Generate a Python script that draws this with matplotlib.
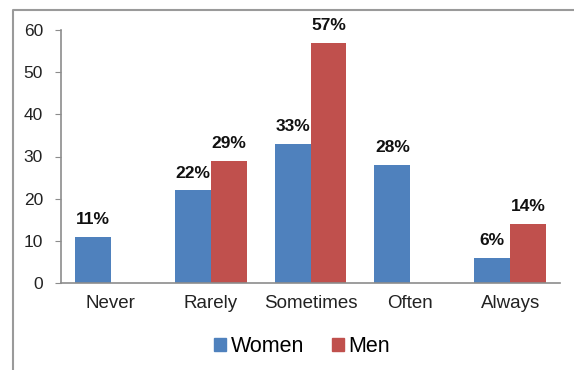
import matplotlib
matplotlib.use("Agg")
import matplotlib.pyplot as plt
from matplotlib.patches import Patch
from matplotlib.lines import Line2D
import numpy as np

plt.rcParams['font.family'] = ['Liberation Sans', 'DejaVu Sans']

# data
categories = ["Never", "Rarely", "Sometimes", "Often", "Always"]
women = [11, 22, 33, 28, 6]
men = [0, 29, 57, 0, 14]

BLUE = "#4F81BD"
RED = "#C0504D"

fig = plt.figure(figsize=(5.74, 3.70), dpi=100)
W, H = 574, 370
ax = fig.add_axes([61 / W, 1 - 283 / H, (560 - 61) / W, (283 - 30) / H])

x = np.arange(len(categories))
bw = 0.36
b1 = ax.bar(x - bw / 2, women, bw, color=BLUE)
b2 = ax.bar(x + bw / 2, men, bw, color=RED)

ax.bar_label(b1, labels=[f"{v}%" if v else "" for v in women],
             padding=7, fontsize=12.5, fontweight='bold', color='#111111')
ax.bar_label(b2, labels=[f"{v}%" if v else "" for v in men],
             padding=7, fontsize=12.5, fontweight='bold', color='#111111')

ax.set_xlim(-0.5, len(categories) - 0.5)
ax.set_ylim(0, 60)
ax.set_yticks(range(0, 61, 10))
ax.set_xticks(x)
ax.set_xticklabels(categories)

for s in ["top", "right"]:
    ax.spines[s].set_visible(False)
for s in ["left", "bottom"]:
    ax.spines[s].set_color("#8c8c8c")
    ax.spines[s].set_linewidth(1.2)

ax.tick_params(axis='y', length=4, color="#8c8c8c", pad=9,
               labelsize=12.5, labelcolor='#222222')
ax.tick_params(axis='x', length=0, pad=9, labelsize=13.5,
               labelcolor='#222222')

# legend
handles = [Patch(color=BLUE, label="Women"), Patch(color=RED, label="Men")]
fig.legend(handles=handles, loc='center', bbox_to_anchor=(302 / W, 1 - 347 / H),
           ncol=2, frameon=False, fontsize=15.5, handlelength=0.55,
           handleheight=0.55, handletextpad=0.2, columnspacing=1.3)

# outer frame of the figure crop
fig.add_artist(Line2D([13 / W, 13 / W, 1], [0, 1 - 10 / H, 1 - 10 / H],
                      transform=fig.transFigure, color="#9a9a9a", lw=1.5))

# clipped caption line above the frame (only its descenders show)
fig.text(240 / W, 1 + 4.5 / H, "Tendency among students (p=0.001) by gender [14]",
         ha='center', va='baseline', fontsize=13, family='Liberation Serif')

fig.savefig("out.png", dpi=100)
